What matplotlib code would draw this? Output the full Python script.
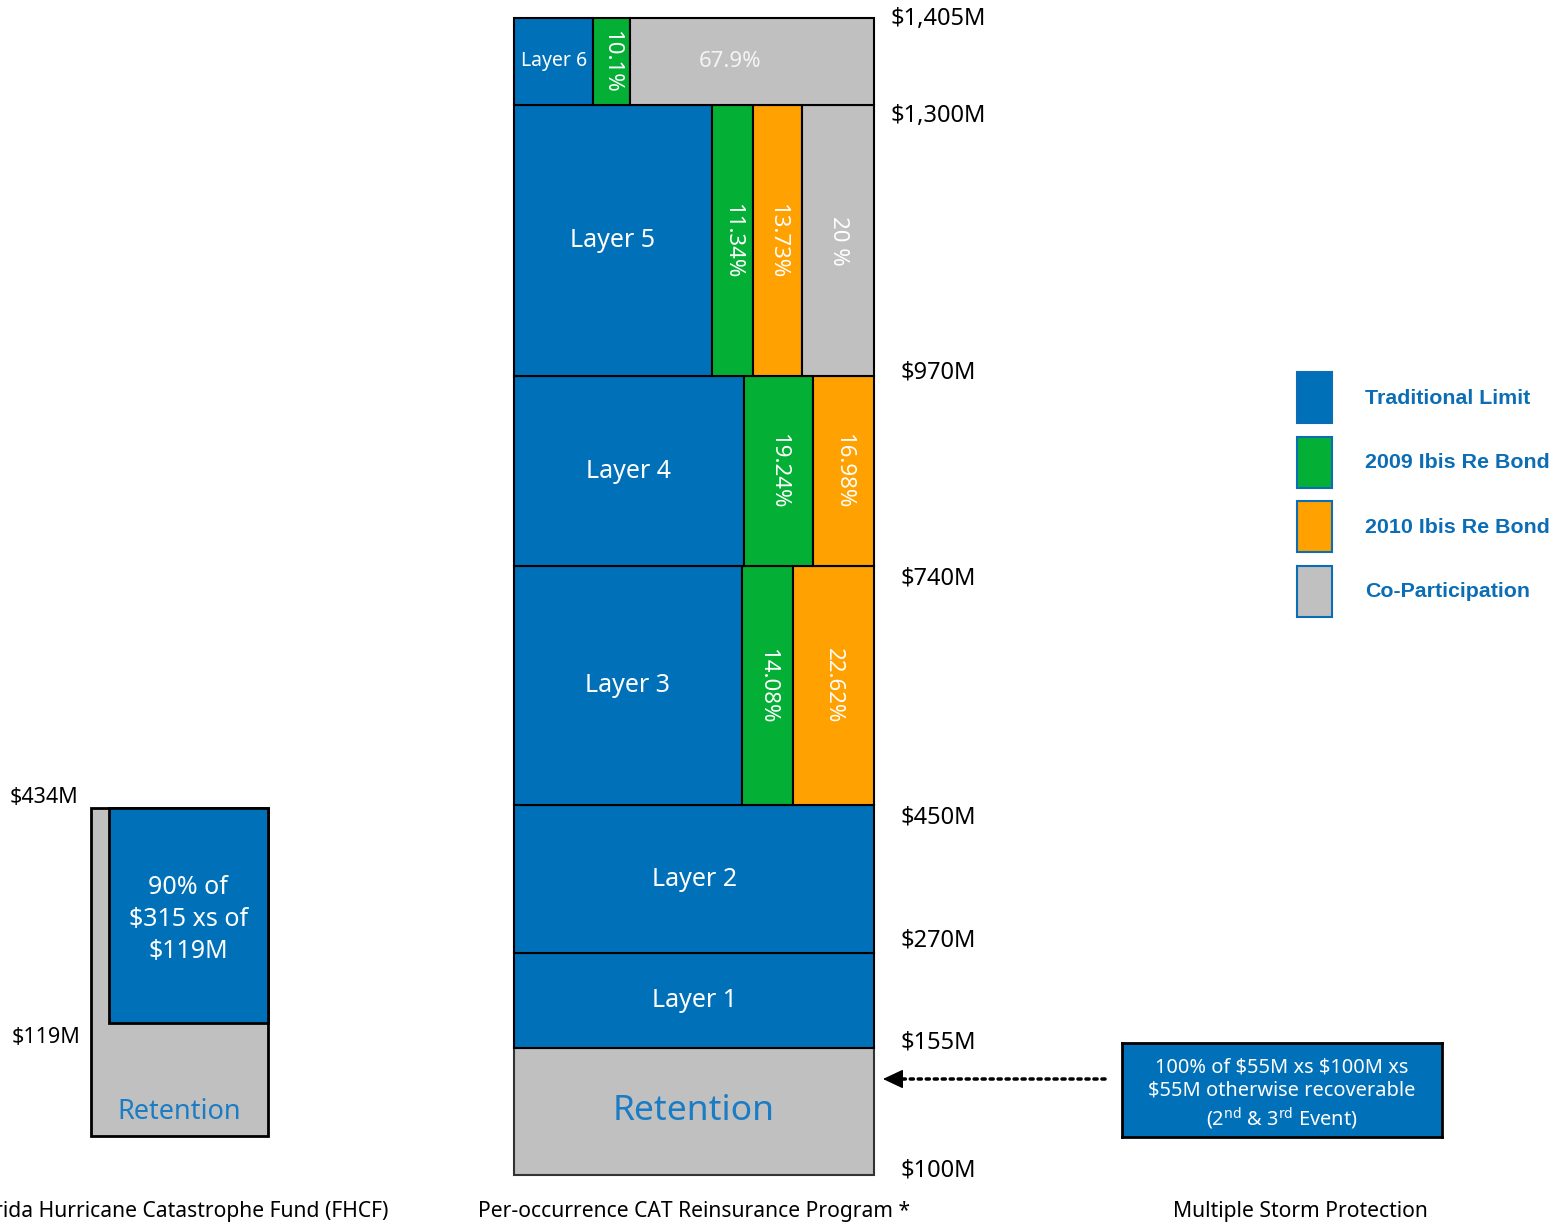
import numpy as np
import matplotlib
matplotlib.use('Agg')
import matplotlib.pyplot as plt
from matplotlib.patches import Patch

plt.rcParams['font.family'] = ['Noto Sans', 'DejaVu Sans']
plt.rcParams['mathtext.fontset'] = 'custom'
plt.rcParams['mathtext.rm'] = 'Noto Sans'

# ---- data ($M attachment points and share of each layer in %) ----
bounds = [100, 155, 270, 450, 740, 970, 1300, 1405]
layer_names = ['Retention', 'Layer 1', 'Layer 2', 'Layer 3', 'Layer 4', 'Layer 5', 'Layer 6']
sources = ['Traditional Limit', '2009 Ibis Re Bond', '2010 Ibis Re Bond', 'Co-Participation']
trad = [0, 100, 100, 63.30, 63.78, 54.93, 22.0]
ibis09 = [0, 0, 0, 14.08, 19.24, 11.34, 10.1]
ibis10 = [0, 0, 0, 22.62, 16.98, 13.73, 0]
copart = [0, 0, 0, 0, 0, 20.0, 67.9]
ibis09_txt = ['', '', '', '14.08%', '19.24%', '11.34%', '10.1%']
ibis10_txt = ['', '', '', '22.62%', '16.98%', '13.73%', '']
copart_txt = ['', '', '', '', '', '20 %', '67.9%']

fhcf_retention = 119
fhcf_limit = 315
fhcf_share = 90
fhcf_text = '90% of\n$315 xs of\n$119M'
msp_text = ('100% of \\$55M xs \\$100M xs\n\\$55M otherwise recoverable\n'
            '(2$^{\\rm nd}$ & 3$^{\\rm rd}$ Event)')

titles = ['Florida Hurricane Catastrophe Fund (FHCF)',
          'Per-occurrence CAT Reinsurance Program *',
          'Multiple Storm Protection']

# ---- style ----
BLUE = '#0070b9'
GREEN = '#03b035'
ORANGE = '#ffa100'
GRAY = '#c0c0c0'
TXTBLUE = '#1a7cc5'
LEGBLUE = '#0b6db5'
colors = [BLUE, GREEN, ORANGE, GRAY]
W, H = 1562, 1227


def px_axes(fig, x0, y0, x1, y1):
    return fig.add_axes([x0 / W, (H - y1) / H, (x1 - x0) / W, (y1 - y0) / H])


def stretched(ax, base, knee, stretch):
    # retention band is drawn taller than the rest of the scale
    def fwd(v):
        v = np.asarray(v, dtype=float)
        return np.where(v < knee, (v - base) * stretch, (knee - base) * stretch + (v - knee))

    def inv(u):
        u = np.asarray(u, dtype=float)
        k = (knee - base) * stretch
        return np.where(u < k, base + u / stretch, knee + u - k)
    ax.set_yscale('function', functions=(fwd, inv))


fig = plt.figure(figsize=(W / 100, H / 100), dpi=100)

# ---- main tower ----
ax = px_axes(fig, 514, 18, 874, 1175)
stretched(ax, 100, 155, 2.804)
ax.set_xlim(0, 100)
ax.set_ylim(bounds[0], bounds[-1])
ax.axis('off')

ax.bar(0, bounds[1] - bounds[0], width=100, bottom=bounds[0], align='edge',
       color=GRAY, edgecolor='#333333', lw=1.5, clip_on=False)
ax.text(50, (bounds[0] + bounds[1]) / 2, layer_names[0], color=TXTBLUE,
        fontsize=25.5, ha='center', va='center')

for i in range(1, len(layer_names)):
    lo, hi = bounds[i], bounds[i + 1]
    mid = (lo + hi) / 2
    left = 0
    cells = [(trad[i], layer_names[i]), (ibis09[i], ibis09_txt[i]),
             (ibis10[i], ibis10_txt[i]), (copart[i], copart_txt[i])]
    for s, (w, txt) in enumerate(cells):
        if w == 0:
            continue
        ax.bar(left, hi - lo, width=w, bottom=lo, align='edge', color=colors[s],
               edgecolor='k', lw=1.5, clip_on=False)
        cx = left + w / 2
        if s == 0:
            ax.text(cx, mid, txt, color='white', fontsize=14 if i == 6 else 18,
                    ha='center', va='center')
        elif i == 6 and s == 3:
            ax.text(cx - 6, mid, txt, color='#f4f4f4', fontsize=16, ha='center', va='center')
        else:
            ax.text(cx, mid, txt, color='white', fontsize=16, rotation=270,
                    ha='center', va='center')
        left += w

nudge = [3, 4, 9, -9, -9, 3, -8, -1]
ytr = ax.get_yaxis_transform()
for b, dy in zip(bounds, nudge):
    ax.annotate('$%sM' % format(b, ','), xy=(1.178, b), xycoords=ytr,
                xytext=(0, dy), textcoords='offset points',
                fontsize=17, ha='center', va='center', color='black')

# ---- FHCF ----
fx = px_axes(fig, 91, 808, 268, 1136)
stretched(fx, 0, fhcf_retention, 1.391)
fx.set_xlim(0, 100)
fx.set_ylim(0, fhcf_retention + fhcf_limit)
fx.axis('off')
fx.bar(0, fhcf_retention + fhcf_limit, width=100, bottom=0, align='edge',
       color=GRAY, edgecolor='k', lw=2, clip_on=False)
fx.bar(100 - fhcf_share, fhcf_limit, width=fhcf_share, bottom=fhcf_retention, align='edge',
       color=BLUE, edgecolor='k', lw=2, clip_on=False)
fx.annotate(fhcf_text, xy=(100 - fhcf_share / 2, fhcf_retention + fhcf_limit / 2),
            xytext=(0, -3), textcoords='offset points', color='white',
            fontsize=18, ha='center', va='center', linespacing=1.38)
fx.text(50, 0.073, 'Retention', color=TXTBLUE, fontsize=19.5, ha='center', va='center',
        transform=fx.get_xaxis_transform())
fytr = fx.get_yaxis_transform()
fx.text(-0.07, fhcf_retention + fhcf_limit, '$%dM' % (fhcf_retention + fhcf_limit),
        transform=fytr, fontsize=15.5, ha='right', va='bottom', color='black')
fx.annotate('$%dM' % fhcf_retention, xy=(-0.06, fhcf_retention), xycoords=fytr,
            xytext=(0, -3), textcoords='offset points',
            fontsize=15.5, ha='right', va='top', color='black')

# ---- multiple storm protection box ----
mx = px_axes(fig, 1122, 1043, 1442, 1137)
mx.set_facecolor(BLUE)
mx.set_xticks([])
mx.set_yticks([])
for sp in mx.spines.values():
    sp.set_linewidth(2)
    sp.set_color('k')
mx.text(0.5, 0.45, msp_text, color='white', fontsize=14.4, ha='center', va='center',
        linespacing=1.25, transform=mx.transAxes)
# dotted leader plus solid arrow head pointing at the retention layer
mx.annotate('', xy=(-0.70, 0.617), xytext=(-0.053, 0.617),
            xycoords='axes fraction', textcoords='axes fraction', annotation_clip=False,
            arrowprops=dict(arrowstyle='-', color='k', lw=2.5, ls=(0, (0.9, 1.4)),
                            shrinkA=0, shrinkB=0))
mx.annotate('', xy=(-0.747, 0.617), xytext=(-0.69, 0.617),
            xycoords='axes fraction', textcoords='axes fraction', annotation_clip=False,
            arrowprops=dict(arrowstyle='-|>,head_length=0.85,head_width=0.4', color='k',
                            lw=1, mutation_scale=15, shrinkA=0, shrinkB=0))

# ---- legend ----
handles = [Patch(facecolor=c, edgecolor=LEGBLUE, lw=1.5) for c in colors]
leg = fig.legend(handles, sources, loc='upper left', bbox_to_anchor=(1297 / W, 1 - 372 / H),
                 frameon=False, borderpad=0, borderaxespad=0,
                 prop={'family': 'Liberation Sans', 'weight': 'bold', 'size': 15.4},
                 labelcolor=LEGBLUE, handlelength=1.65, handleheight=3.3,
                 labelspacing=0.63, handletextpad=1.55)

# ---- titles ----
fig.text(388 / W, 1 - 1212 / H, titles[0], fontsize=15.2, ha='right', va='center', color='black')
fig.text(694 / W, 1 - 1212 / H, titles[1], fontsize=15.2, ha='center', va='center', color='black')
fig.text(1300 / W, 1 - 1212 / H, titles[2], fontsize=15.2, ha='center', va='center', color='black')

fig.savefig('out.png', dpi=100)
